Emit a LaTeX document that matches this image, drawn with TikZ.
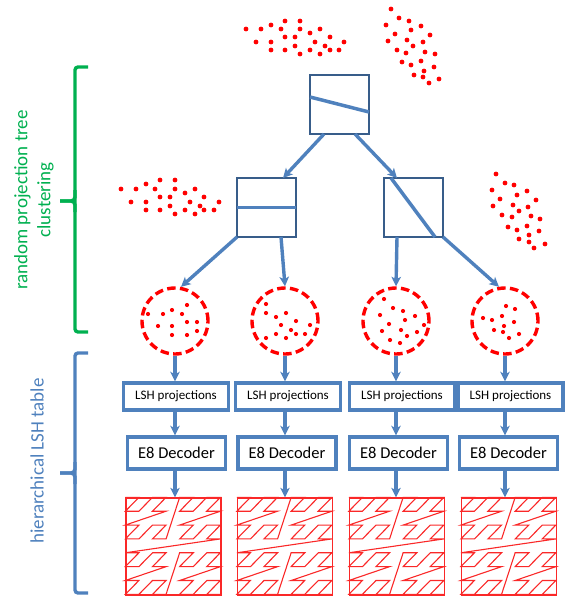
\documentclass[tikz,border=0pt]{standalone}
\usepackage{fontspec}
\setmainfont{Carlito}
\usetikzlibrary{arrows.meta,calc}
\definecolor{tblue}{RGB}{79,129,189}
\definecolor{tdark}{RGB}{56,93,138}
\definecolor{tgreen}{RGB}{0,176,80}
\definecolor{tred}{RGB}{255,0,0}
\definecolor{zred}{RGB}{250,40,40}
\begin{document}
\begin{tikzpicture}[x=1pt,y=-1pt,
  treebox/.style={draw=tdark, line width=2.5pt, minimum width=59pt, minimum height=59pt, inner sep=0pt, outer sep=0pt},
  splitline/.style={tblue, line width=3.5pt},
  arr/.style={draw=tblue, line width=3.4pt, -{Stealth[length=9.5pt,width=9.5pt,inset=2.5pt]}},
  cluster/.style={circle, draw=tred, line width=3.4pt, dash pattern=on 8.5pt off 4.3pt, minimum size=66pt, inner sep=0pt},
  lshbox/.style={draw=tblue, line width=3.4pt, fill=white, minimum width=105pt, minimum height=27pt, inner sep=0pt, font=\fontsize{13}{14}\selectfont},
  eightbox/.style={draw=tblue, line width=3.4pt, fill=white, minimum width=98pt, minimum height=32pt, inner sep=0pt, font=\fontsize{16.5}{18}\selectfont},
  zbox/.style={draw=zred, line width=1.3pt, minimum width=95pt, minimum height=97pt, inner sep=0pt},
  zline/.style={zred, line width=1.1pt, line join=miter},
  bracestyle/.style={line width=3.4pt, rounded corners=3pt},
  redot/.style={fill=tred}
]
\useasboundingbox (0,0) rectangle (572,596);

% ---------- dot clusters ----------
\foreach \p in {(246,29),(261,29),(271,25),(281,29),(285,21),(300,21),(300,29),(310,33),(320,29),(256,42),(271,42),(285,37),(295,37),(295,46),(315,42),(325,46),(330,37),(344,42),(271,50),(285,50),(300,54),(310,50),(320,54),(330,50),(339,50)}
  \fill[redot] \p circle[radius=2.4pt];
\foreach \p in {(391,9),(399,18),(409,21),(386,25),(411,30),(421,26),(395,34),(430,35),(388,41),(407,40),(413,46),(423,42),(397,50),(406,53),(425,52),(435,54),(402,62),(411,65),(421,61),(434,67),(424,71),(414,75),(423,77),(439,79),(429,83)}
  \fill[redot] \p circle[radius=2.4pt];
\foreach \p in {(121,189),(136,189),(146,184),(155,189),(160,180),(175,180),(175,189),(185,193),(195,189),(131,202),(146,202),(160,197),(170,197),(170,206),(190,202),(200,206),(204,197),(219,202),(146,210),(160,210),(175,214),(185,210),(195,214),(204,210),(214,210)}
  \fill[redot] \p circle[radius=2.4pt];
\foreach \p in {(496,174),(505,183),(514,185),(492,190),(517,195),(527,191),(500,199),(536,200),(493,206),(513,205),(519,211),(528,207),(502,215),(512,217),(531,216),(540,219),(508,227),(517,230),(527,226),(539,231),(529,235),(519,239),(529,242),(545,244),(534,248)}
  \fill[redot] \p circle[radius=2.4pt];

% ---------- tree ----------
\node[treebox] (root) at (339.5,104.5) {};
\node[treebox] (lbox) at (266.5,207.5) {};
\node[treebox] (rbox) at (413.5,207.5) {};
\draw[splitline] ($(root.west)+(0,-7.5)$) -- ($(root.east)+(0,7.5)$);
\draw[splitline] (lbox.west) -- (lbox.east);
\draw[splitline] ($(rbox.north west)+(7,0)$) -- ($(rbox.south east)+(-8,0)$);

% ---------- clusters ----------
\node[cluster] (c1) at (175,321) {};
\node[cluster] (c2) at (285,321) {};
\node[cluster] (c3) at (396,321) {};
\node[cluster] (c4) at (505,321) {};
\foreach \p in {(148,314),(163,314),(172,310),(182,314),(187,305),(158,326),(172,326),(187,322),(197,322),(172,335),(187,335),(197,331)}
  \fill[redot] \p circle[radius=2.1pt];
\foreach \p in {(266,304),(266,313),(276,317),(286,313),(281,325),(296,321),(310,325),(291,330),(276,334),(296,334),(305,334),(266,338),(286,338)}
  \fill[redot] \p circle[radius=2.1pt];
\foreach \p in {(384,299),(393,308),(403,311),(380,315),(415,316),(405,320),(389,324),(424,325),(382,331),(401,330),(417,332),(407,336),(390,340),(400,343)}
  \fill[redot] \p circle[radius=2.1pt];
\foreach \p in {(506,306),(515,309),(483,318),(502,316),(492,320),(514,322),(504,326),(494,330),(503,332),(519,334),(509,338)}
  \fill[redot] \p circle[radius=2.1pt];

% tree arrows
\draw[arr] ($(root.south)+(-15.5,0)$) -- ($(lbox.north)+(16.5,0)$);
\draw[arr] ($(root.south)+(15.5,0)$) -- ($(rbox.north)+(-16.5,0)$);
\draw[arr] (lbox.south west) -- (c1.80);
\draw[arr] ($(lbox.south)+(14.5,0)$) -- (c2.north);
\draw[arr] ($(rbox.south)+(-16.5,0)$) -- (c3.north);
\draw[arr] (rbox.south east) -- (c4.100);

% ---------- LSH / E8 / tables ----------
\node[lshbox] (l1) at (176,396.5) {LSH projections};
\node[lshbox] (l2) at (288,396.5) {LSH projections};
\node[lshbox] (l3) at (402,396.5) {LSH projections};
\node[lshbox] (l4) at (510.5,396.5) {LSH projections};
\node[eightbox] (e1) at (176.5,453) {E8 Decoder};
\node[eightbox] (e2) at (287,453) {E8 Decoder};
\node[eightbox] (e3) at (398.5,453) {E8 Decoder};
\node[eightbox] (e4) at (508.5,453) {E8 Decoder};
\node[zbox] (s1) at (173.5,546.5) {};
\node[zbox] (s2) at (285,546.5) {};
\node[zbox] (s3) at (397,546.5) {};
\node[zbox] (s4) at (509,546.5) {};

\foreach \i in {1,...,4} {
  \begin{scope}[shift={(s\i.north west)}]
    \draw[zline] plot[samples at={0,1,...,63}, variable=\k]
      ({95/7*(mod(\k,2)+2*mod(floor(\k/4),2)+4*mod(floor(\k/16),2))},
       {97/7*(mod(floor(\k/2),2)+2*mod(floor(\k/8),2)+4*mod(floor(\k/32),2))});
  \end{scope}
  \draw[arr] (c\i.south) -- (c\i.south |- l\i.north);
  \draw[arr] (c\i.south |- l\i.south) -- (c\i.south |- e\i.north);
  \draw[arr] (c\i.south |- e\i.south) -- (c\i.south |- s\i.north);
}

% ---------- braces ----------
\draw[tgreen, bracestyle] (88,67) -- (75,67) -- (75,332) -- (88,332);
\draw[tgreen, line width=3.4pt, rounded corners=4pt] (75,190) -- (75,201) -- (60,201);
\draw[tgreen, line width=3.4pt, rounded corners=4pt] (60,201) -- (75,201) -- (75,212);
\node[rotate=90, text=tgreen, align=center, font=\fontsize{19}{23}\selectfont] (gl) at (34,200) {random projection tree\\clustering};

\draw[tblue, bracestyle] (88,353) -- (75,353) -- (75,593) -- (88,593);
\draw[tblue, line width=3.4pt, rounded corners=4pt] (75,462) -- (75,473) -- (60,473);
\draw[tblue, line width=3.4pt, rounded corners=4pt] (60,473) -- (75,473) -- (75,484);
\node[rotate=90, text=tblue, font=\fontsize{19}{23}\selectfont] (bl) at (37,461) {hierarchical LSH table};
\end{tikzpicture}
\end{document}
